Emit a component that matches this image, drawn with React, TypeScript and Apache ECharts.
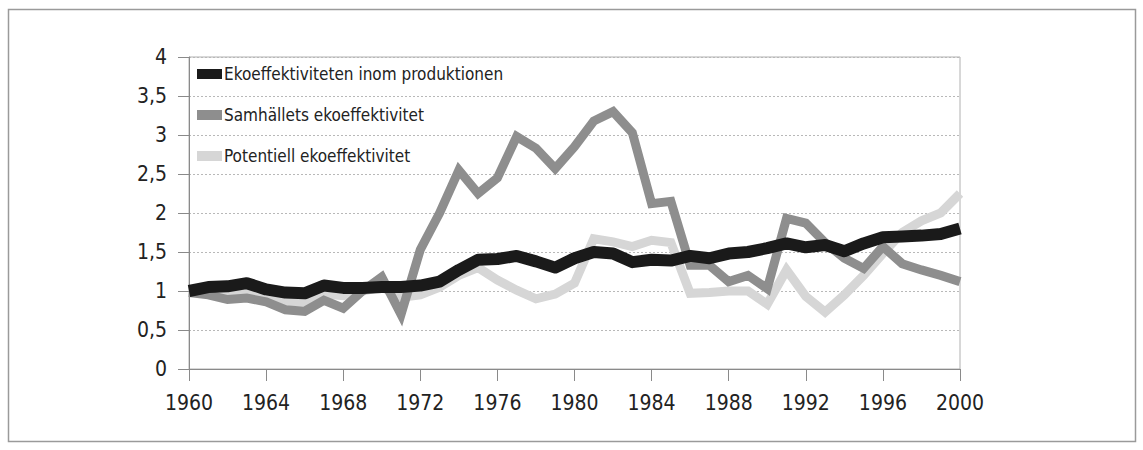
import React, { useEffect, useRef } from "react";
import * as echarts from "echarts";

const years: number[] = [
  1960, 1961, 1962, 1963, 1964, 1965, 1966, 1967, 1968, 1969,
  1970, 1971, 1972, 1973, 1974, 1975, 1976, 1977, 1978, 1979,
  1980, 1981, 1982, 1983, 1984, 1985, 1986, 1987, 1988, 1989,
  1990, 1991, 1992, 1993, 1994, 1995, 1996, 1997, 1998, 1999, 2000,
];

const produktionen: number[] = [
  1.0, 1.05, 1.06, 1.1, 1.02, 0.98, 0.97, 1.07, 1.04, 1.04,
  1.05, 1.05, 1.07, 1.12, 1.27, 1.4, 1.41, 1.45, 1.38, 1.3,
  1.42, 1.5, 1.48, 1.37, 1.4, 1.39, 1.45, 1.42, 1.48, 1.5,
  1.55, 1.61, 1.56, 1.59, 1.51, 1.61, 1.69, 1.7, 1.71, 1.73, 1.8,
];

const samhallets: number[] = [
  0.98, 0.95, 0.89, 0.91, 0.86, 0.76, 0.74, 0.88, 0.78, 1.0,
  1.18, 0.7, 1.53, 2.0, 2.55, 2.25, 2.45, 2.98, 2.83, 2.57,
  2.85, 3.18, 3.3, 3.03, 2.12, 2.15, 1.33, 1.33, 1.12, 1.2,
  1.03, 1.93, 1.87, 1.62, 1.42, 1.29, 1.57, 1.35, 1.27, 1.2, 1.12,
];

const potentiell: number[] = [
  1.0, 1.0, 0.96, 0.98, 0.92, 0.86, 0.86, 0.96, 0.94, 1.0,
  1.05, 0.92, 0.95, 1.05, 1.2, 1.3, 1.14, 1.01, 0.9, 0.96,
  1.1, 1.67, 1.63, 1.57, 1.65, 1.62, 0.97, 0.98, 1.0, 1.0,
  0.83, 1.27, 0.93, 0.73, 0.95, 1.2, 1.48, 1.75, 1.9, 2.0, 2.25,
];

const seriesNames: string[] = [
  "Ekoeffektiviteten inom produktionen",
  "Samhällets ekoeffektivitet",
  "Potentiell ekoeffektivitet",
];

const FONT = "'DejaVu Sans Condensed', 'Liberation Sans Narrow', 'Noto Sans', sans-serif";

export default function App() {
  const ref = useRef<HTMLDivElement>(null);

  useEffect(() => {
    document.body.style.margin = "0";
    if (!ref.current) return;
    const chart = echarts.init(ref.current, null, { renderer: "svg" });
    const pair = (vals: number[]) => years.map((y, i) => [y, vals[i]]);

    chart.setOption({
      animation: false,
      backgroundColor: "#ffffff",
      textStyle: { fontFamily: FONT },
      graphic: [
        {
          type: "rect",
          shape: { x: 8.5, y: 9.5, width: 1127, height: 432 },
          style: { fill: "none", stroke: "#9a9a9a", lineWidth: 1.5 },
          silent: true,
        },
      ],
      grid: {
        left: 189,
        right: 183,
        top: 57,
        bottom: 81,
        show: true,
        borderColor: "#b0b0b0",
        borderWidth: 1,
        backgroundColor: "transparent",
      },
      legend: {
        orient: "vertical",
        left: 192,
        top: 59,
        itemWidth: 25,
        itemHeight: 10,
        itemGap: 21,
        icon: "rect",
        data: seriesNames,
        textStyle: {
          fontFamily: FONT,
          fontSize: 17,
          lineHeight: 20,
          color: "#222222",
          padding: [0, 0, 0, -3],
        },
      },
      xAxis: {
        type: "value",
        min: 1960,
        max: 2000,
        interval: 4,
        axisLine: { show: true, lineStyle: { color: "#8a8a8a", width: 1 } },
        axisTick: { show: true, length: 12, lineStyle: { color: "#8a8a8a" } },
        splitLine: { show: false },
        axisLabel: {
          formatter: (v: number) => String(v),
          fontFamily: FONT,
          fontSize: 21,
          color: "#222222",
          margin: 23,
        },
      },
      yAxis: {
        type: "value",
        min: 0,
        max: 4,
        interval: 0.5,
        axisLine: { show: true, lineStyle: { color: "#8a8a8a", width: 1 } },
        axisTick: { show: true, length: 11, lineStyle: { color: "#8a8a8a" } },
        splitLine: {
          show: true,
          lineStyle: { color: "#b8b8b8", type: [2, 2], width: 1 },
        },
        axisLabel: {
          formatter: (v: number) => String(v).replace(".", ","),
          fontFamily: FONT,
          fontSize: 21,
          color: "#222222",
          margin: 22,
        },
      },
      series: [
        {
          name: seriesNames[2],
          type: "line",
          data: pair(potentiell),
          showSymbol: false,
          z: 1,
          itemStyle: { color: "#d6d6d6" },
          lineStyle: { color: "#d6d6d6", width: 9, join: "miter" },
        },
        {
          name: seriesNames[1],
          type: "line",
          data: pair(samhallets),
          showSymbol: false,
          z: 2,
          itemStyle: { color: "#8e8e8e" },
          lineStyle: { color: "#8e8e8e", width: 9, join: "miter" },
        },
        {
          name: seriesNames[0],
          type: "line",
          data: pair(produktionen),
          showSymbol: false,
          z: 3,
          itemStyle: { color: "#1a1a1a" },
          lineStyle: { color: "#1a1a1a", width: 12, join: "round" },
        },
      ],
    });

    return () => chart.dispose();
  }, []);

  return <div ref={ref} style={{ width: 1143, height: 450 }} />;
}
